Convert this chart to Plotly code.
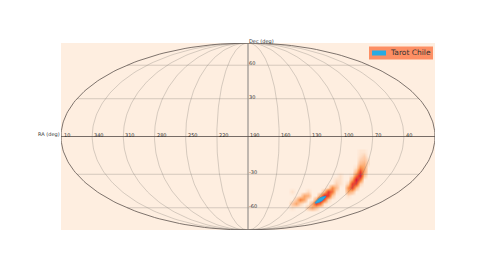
import numpy as np
import plotly.graph_objects as go

RA_TICKS = [10, 340, 310, 280, 250, 220, 190, 160, 130, 100, 70, 40]
DEC_TICKS = [60, 30, -30, -60]
CENTER_RA = 190

# Probability map, on the flat map plane (right / up from map centre)
MAP_X = [36, 40, 44, 48, 52, 56, 60, 64, 68, 72, 76, 80, 84, 88, 92, 96, 100, 104, 108, 112, 116, 120]
MAP_Y = [-15, -19, -23, -27, -31, -35, -39, -43, -47, -51, -55, -59, -63, -67, -71, -75]
MAP_Z = [
    [0, 0, 0, 0, 0, 0, 0, 0, 0, 0, 0, 0, 0, 0, 0, 0, 0, 0, 0, .3, .3, 0],
    [0, 0, 0, 0, 0, 0, 0, 0, 0, 0, 0, 0, 0, 0, 0, 0, 0, 0, 0, .5, 1, 0],
    [0, 0, 0, 0, 0, 0, 0, 0, 0, 0, 0, 0, 0, 0, 0, 0, 0, 0, 0, 1, 1.5, .5],
    [0, 0, 0, 0, 0, 0, 0, 0, 0, 0, 0, 0, 0, 0, 0, 0, 0, 0, 0, 2, 2.5, .5],
    [0, 0, 0, 0, 0, 0, 0, 0, 0, 0, 0, 0, 0, 0, 0, 0, 0, 0, .5, 4, 3, 0],
    [0, 0, 0, 0, 0, 0, 0, 0, 0, 0, 0, 0, 0, 0, 0, 0, 0, 0, 2, 7, 3, 0],
    [0, 0, 0, 0, 0, 0, 0, 0, 0, 0, 0, 0, 0, 0, .5, 0, 0, .5, 5, 9, 1.5, 0],
    [0, 0, 0, 0, 0, 0, 0, 0, 0, 0, 0, 0, 0, .5, .5, 0, 0, 3, 9, 5, 0, 0],
    [0, 0, 0, 0, 0, 0, 0, 0, 0, 0, 0, 0, 0, 1, .5, 0, 1, 7, 7, 1, 0, 0],
    [0, 0, 0, 0, 0, 0, 0, 0, 0, 0, 0, .5, 4, 2, 0, 0, 4, 7, 2, 0, 0, 0],
    [0, 0, .5, 0, 0, 0, .7, 0, 0, 0, 2, 7, 5, .5, 0, 0, 3, 2, 0, 0, 0, 0],
    [0, 0, 0, 0, .5, 3, 2.5, 0, 0, 3, 8, 7, 1.5, 0, 0, 0, .5, 0, 0, 0, 0, 0],
    [0, 0, 0, 1.5, 4.5, 3, 0, 0, 3, 9, 6, 1, 0, 0, 0, 0, 0, 0, 0, 0, 0, 0],
    [0, 0, 1.5, 3, 1, 0, 0, 2.5, 7, 5, .5, 0, 0, 0, 0, 0, 0, 0, 0, 0, 0, 0],
    [0, 0, .5, 0, 0, 0, 1.5, 3, 1.5, 0, 0, 0, 0, 0, 0, 0, 0, 0, 0, 0, 0, 0],
    [0, 0, 0, 0, 0, 0, 0, 0, 0, 0, 0, 0, 0, 0, 0, 0, 0, 0, 0, 0, 0, 0],
]

# Tarot Chile field footprint
TAROT_RA = [98, 98.4, 92.5, 92.1]
TAROT_DEC = [-55.4, -50.7, -48.9, -53.5]
TAROT_NAME = "Tarot Chile"

HALF_W, HALF_H = 187.0, 93.5
OFF = 8  # the page body adds this many pixels before the figure


def project(ra, dec):
    ra = np.asarray(ra, float)
    phi = np.radians(np.asarray(dec, float))
    lam = ((CENTER_RA - ra + 180) % 360 - 180)
    theta = phi.copy()
    for _ in range(60):
        d = 2 + 2 * np.cos(2 * theta)
        d = np.where(np.abs(d) < 1e-9, 1e-9, d)
        theta = theta - (2 * theta + np.sin(2 * theta) - np.pi * np.sin(phi)) / d
    theta = np.where(np.abs(np.abs(phi) - np.pi / 2) < 1e-6, phi, theta)
    return HALF_W * lam / 180 * np.cos(theta), HALF_H * np.sin(theta)


fig = go.Figure()
fig.add_trace(go.Heatmap(
    x=MAP_X, y=MAP_Y, z=MAP_Z, zmin=0, zmax=9, zsmooth="best", showscale=False, hoverinfo="skip",
    colorscale=[[0, "rgba(253,190,140,0)"], [0.12, "rgba(253,180,130,0.55)"], [0.38, "#fb9a55"],
                [0.72, "#ee4a2c"], [1, "#dc1440"]],
))

GRID = "rgba(120,115,110,0.38)"
sweep = np.linspace(-90, 90, 121)
for i in range(-5, 6):
    if i == 0:
        continue
    gx, gy = project(np.full_like(sweep, CENTER_RA + 30 * i), sweep)
    fig.add_trace(go.Scatter(x=gx, y=gy, mode="lines", line=dict(color=GRID, width=0.8),
                             showlegend=False, hoverinfo="skip"))
ra_sweep = np.linspace(CENTER_RA - 179.99, CENTER_RA + 179.99, 121)
for d in DEC_TICKS:
    gx, gy = project(ra_sweep, np.full_like(ra_sweep, d))
    fig.add_trace(go.Scatter(x=gx, y=gy, mode="lines", line=dict(color=GRID, width=0.8),
                             showlegend=False, hoverinfo="skip"))
# central meridian, equator, outline
gx, gy = project(np.full_like(sweep, CENTER_RA), sweep)
fig.add_trace(go.Scatter(x=gx, y=gy, mode="lines", line=dict(color="rgba(150,145,140,0.75)", width=1.6),
                         showlegend=False, hoverinfo="skip"))
gx, gy = project(ra_sweep, np.zeros_like(ra_sweep))
fig.add_trace(go.Scatter(x=gx, y=gy, mode="lines", line=dict(color="rgba(95,85,80,0.85)", width=1),
                         showlegend=False, hoverinfo="skip"))
lx, ly = project(np.full_like(sweep, CENTER_RA - 179.99), sweep)
rx, ry = project(np.full_like(sweep, CENTER_RA + 179.99), sweep)
fig.add_trace(go.Scatter(x=np.r_[lx, rx[::-1], lx[0]], y=np.r_[ly, ry[::-1], ly[0]], mode="lines",
                         line=dict(color="rgba(95,85,80,0.9)", width=0.9),
                         showlegend=False, hoverinfo="skip"))

tx, ty = project(TAROT_RA, TAROT_DEC)
fig.add_trace(go.Scatter(x=np.r_[tx, tx[0]], y=np.r_[ty, ty[0]], mode="lines", fill="toself",
                         fillcolor="#29abe2", line=dict(color="#1f8fd0", width=0.6, shape="spline"),
                         name=TAROT_NAME, showlegend=False, hoverinfo="skip"))

W, H = 484, 272


def fx(p):
    return (p - OFF) / W


def fy(p):
    return (H - p + OFF) / H


FONT = dict(family="DejaVu Sans", size=5, color="#333333")
ann = []
for r in RA_TICKS:
    px, _ = project([r], [0])
    ann.append(dict(x=float(px[0]), y=0, text=str(r), xref="x", yref="y", xanchor="left", yanchor="bottom",
                    showarrow=False, font=FONT, xshift=2 if r == 10 else 1, yshift=-2))
for d in DEC_TICKS:
    _, py = project([CENTER_RA], [d])
    ann.append(dict(x=0, y=float(py[0]), text=str(d), xref="x", yref="y", xanchor="left", yanchor="bottom",
                    showarrow=False, font=FONT, xshift=0, yshift=-2))
ann.append(dict(x=-HALF_W, y=0, text="RA (deg)", xref="x", yref="y", xanchor="right", yanchor="bottom",
                showarrow=False, font=FONT, xshift=0, yshift=-2))
ann.append(dict(x=0, y=HALF_H, text="Dec (deg)", xref="x", yref="y", xanchor="left", yanchor="bottom",
                showarrow=False, font=FONT, yshift=-3))
ann.append(dict(x=fx(431.5), y=fy(53), text=TAROT_NAME, xref="paper", yref="paper", xanchor="right",
                yanchor="middle", showarrow=False,
                font=dict(family="DejaVu Sans", size=7.5, color="#333333")))
for a in ann:
    a["borderpad"] = 0

shapes = [
    dict(type="rect", xref="paper", yref="paper", x0=fx(369), x1=fx(433), y0=fy(46.5), y1=fy(59.5),
         fillcolor="#fd8f64", line=dict(width=0), layer="above"),
    dict(type="rect", xref="paper", yref="paper", x0=fx(372), x1=fx(386), y0=fy(50.5), y1=fy(55.5),
         fillcolor="#29abe2", line=dict(width=0), layer="above"),
]

fig.update_layout(
    width=W, height=H, margin=dict(l=0, r=0, t=0, b=0), paper_bgcolor="white", plot_bgcolor="#feeee0",
    xaxis=dict(domain=[fx(61), fx(435)], range=[-HALF_W, HALF_W], visible=False, fixedrange=True),
    yaxis=dict(domain=[fy(230), fy(43)], range=[-HALF_H, HALF_H], visible=False, fixedrange=True),
    showlegend=False, annotations=ann, shapes=shapes,
)
fig.write_html("out.html", config=dict(displayModeBar=False))
